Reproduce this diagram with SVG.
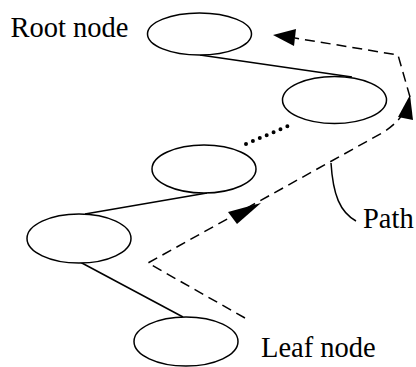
<svg xmlns="http://www.w3.org/2000/svg" width="416" height="367" viewBox="0 0 416 367">
  <style>
    .node { fill: #ffffff; stroke: #000000; stroke-width: 1.5; }
    .edge { fill: none; stroke: #000000; stroke-width: 1.5; }
    .dots { fill: none; stroke: #000000; stroke-width: 4; stroke-linecap: round; stroke-dasharray: 0 7.5; }
    .route { fill: none; stroke: #000000; stroke-width: 1.5; stroke-dasharray: 10 6; }
    .head { fill: #000000; stroke: none; }
    .label { font-family: "Liberation Serif", "Times New Roman", serif; font-size: 28.5px; fill: #000000; }
  </style>

  <!-- tree edges -->
  <g id="connectors">
    <line class="edge" x1="200" y1="55" x2="352" y2="77"/>
    <line class="dots" x1="246" y1="144" x2="288" y2="126"/>
    <line class="edge" x1="207" y1="193" x2="85" y2="214"/>
    <line class="edge" x1="80" y1="262" x2="183" y2="317"/>

    <!-- traversal route from leaf up to root -->
    <path class="route" d="M245,318 L148,263 L382,133 Q400,122 406,108"/>
    <path class="route" d="M410,97 L398,55 L295,38"/>
    <!-- arrowheads on the route -->
    <polygon class="head" points="261,203 228,212 237,224"/>
    <polygon class="head" points="410,95 398,117 413,120"/>
    <polygon class="head" points="273,35 296,29 294,46"/>
    <!-- label leader -->
    <path class="edge" d="M331,163 C333,195 340,212 356,221"/>
  </g>

  <g id="root">
    <ellipse class="node" cx="199.5" cy="34" rx="52" ry="21"/>
    <text class="label" x="10.5" y="37">Root node</text>
  </g>
  <g id="n2">
    <ellipse class="node" cx="334.5" cy="100" rx="52" ry="23.5"/>
  </g>
  <g id="n3">
    <ellipse class="node" cx="204" cy="169" rx="52" ry="24"/>
  </g>
  <g id="n4">
    <ellipse class="node" cx="79" cy="238.5" rx="52" ry="24.5"/>
  </g>
  <g id="leaf">
    <ellipse class="node" cx="186" cy="341.5" rx="52" ry="24.5"/>
    <text class="label" x="261" y="357">Leaf node</text>
  </g>
  <g id="path-label">
    <text class="label" x="363" y="228">Path</text>
  </g>
</svg>
